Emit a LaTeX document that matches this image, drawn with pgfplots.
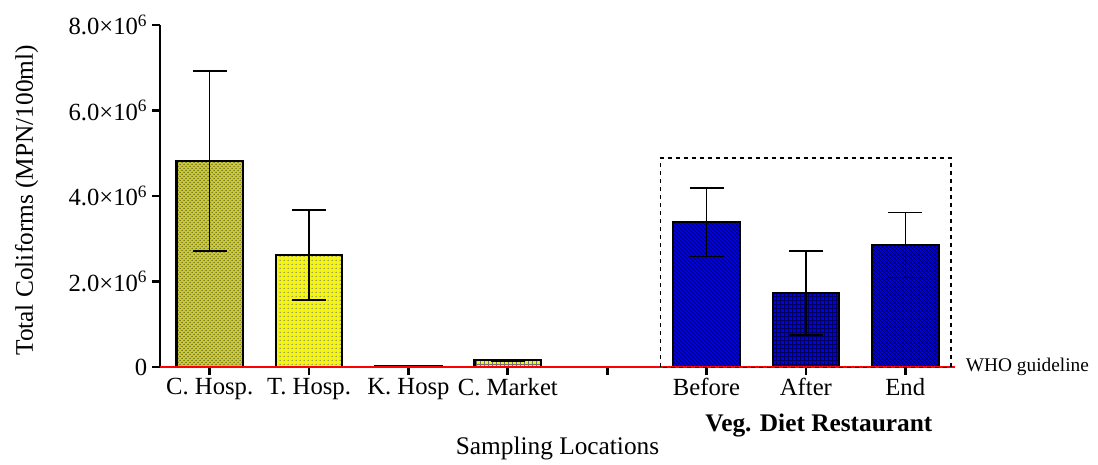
\documentclass[border=0pt]{standalone}
\usepackage{fontspec}
\setmainfont{Liberation Serif}
\usepackage{pgfplots}
\pgfplotsset{compat=1.18}
\usetikzlibrary{patterns}
\definecolor{olivey}{RGB}{205,205,35}
\definecolor{yel}{RGB}{245,245,20}
\definecolor{bblue}{RGB}{0,0,240}
\definecolor{dblue}{RGB}{0,0,90}
\begin{document}
\begin{tikzpicture}
\pgfplotsset{
  mybar/.style={draw=black, line width=1.6pt, bar shift=0pt,
    error bars/y dir=both, error bars/y explicit,
    error bars/error bar style={line width=1.1pt, black},
    error bars/error mark options={rotate=90, line width=1.1pt, black, mark size=12.75pt}}
}
\begin{axis}[
  name=ax,
  scale only axis, width=596pt, height=256.5pt,
  xmin=-0.5, xmax=7.5, ymin=0, ymax=8e6,
  scaled y ticks=false,
  axis x line=bottom, axis y line=left,
  axis line style={-, line width=2pt},
  xtick={0,...,7},
  xticklabels={C. Hosp., T. Hosp., K. Hosp, C. Market, , Before, After, End},
  ytick={0,2e6,4e6,6e6,8e6},
  yticklabels={0, 2.0×10\textsuperscript{\fontsize{13}{13}\selectfont 6}, 4.0×10\textsuperscript{\fontsize{13}{13}\selectfont 6}, 6.0×10\textsuperscript{\fontsize{13}{13}\selectfont 6}, 8.0×10\textsuperscript{\fontsize{13}{13}\selectfont 6}},
  tick style={black, line width=2pt},
  tick align=outside, major tick length=6pt,
  ticklabel style={font=\fontsize{18.5}{22}\selectfont},
  xticklabel style={inner sep=2pt},
  ybar, bar width=0.67,
  clip=false,
]
\addplot[mybar, fill=olivey, postaction={pattern=crosshatch dots, pattern color=black!75}]
  coordinates {(0,4.82e6) +- (0,2.1e6)};
\addplot[mybar, fill=yel, postaction={pattern=dots, pattern color=black!55}]
  coordinates {(1,2.62e6) +- (0,1.05e6)};
\addplot[mybar, fill=yel, postaction={pattern=dots, pattern color=black!55}]
  coordinates {(2,0.02e6) +- (0,0.005e6)};
\addplot[mybar, fill=yel, postaction={pattern=grid, pattern color=black!55}]
  coordinates {(3,0.16e6) +- (0,0.02e6)};
\addplot[mybar, fill=bblue, postaction={pattern=north west lines, pattern color=dblue}]
  coordinates {(5,3.39e6) +- (0,0.8e6)};
\addplot[mybar, fill=bblue, postaction={pattern=grid, pattern color=dblue}]
  coordinates {(6,1.73e6) +- (0,0.98e6)};
\addplot[mybar, fill=bblue, postaction={pattern=crosshatch, pattern color=dblue}]
  coordinates {(7,2.85e6) +- (0,0.76e6)};
\addplot[red, line width=1.5pt, sharp plot, no marks] coordinates {(-0.5,0) (7.5,0)};
\draw[dashed, line width=0.8pt] (axis cs:4.54,0) rectangle (axis cs:7.46,4.89e6);
\node[anchor=west, font=\fontsize{14.5}{17}\selectfont, inner sep=2pt] at ([xshift=6pt]axis cs:7.5,0) {WHO guideline};
\node[font=\bfseries\fontsize{19}{22}\selectfont] at ([yshift=-43.5pt]axis cs:6.13,0) {Veg. Diet Restaurant};
\node[font=\fontsize{19}{22}\selectfont] at ([yshift=-61pt]axis cs:3.5,0) {Sampling Locations};
\node[rotate=90, font=\fontsize{19}{22}\selectfont] at ([xshift=-100pt]axis cs:-0.5,3.9e6) {Total Coliforms (MPN/100ml)};
\end{axis}
\path[use as bounding box] ([xshift=-120pt,yshift=-69pt]ax.south west) rectangle ([xshift=107.25pt,yshift=18.75pt]ax.north east);
\end{tikzpicture}
\end{document}
